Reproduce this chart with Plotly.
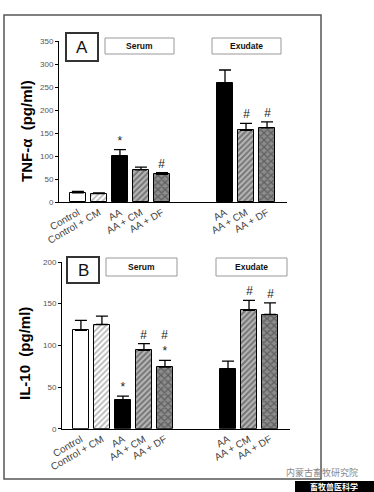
import plotly.graph_objects as go

W, H = 374, 492

# ---------------- data ----------------
serum_cats = ["Control", "Control + CM", "AA", "AA + CM", "AA + DF"]
exudate_cats = ["AA", "AA + CM", "AA + DF"]

tnf_serum = [20, 18, 99, 70, 60]
tnf_serum_err = [3, 2, 15, 6, 4]
tnf_exudate = [259, 156, 161]
tnf_exudate_err = [28, 15, 13]
tnf_serum_marks = ["", "", "*", "", "#"]
tnf_exudate_marks = ["", "#", "#"]

il10_serum = [118, 125, 34, 94, 74]
il10_serum_err = [12, 10, 5, 8, 8]
il10_exudate = [72, 142, 137]
il10_exudate_err = [9, 12, 14]
il10_serum_marks = ["", "", "*", "#", "#<br>*"]
il10_exudate_marks = ["", "#", "#"]

tnf_ticks = [0, 50, 100, 150, 200, 250, 300, 350]
il10_ticks = [0, 50, 100, 150, 200]

# ---------------- styles ----------------
FONT = "Liberation Sans"
styles = {
    "Control": dict(color="white"),
    "Control + CM": dict(color="white", pattern=dict(shape="/", fgcolor="#666666", bgcolor="white", size=4, solidity=0.4)),
    "AA": dict(color="black"),
    "AA + CM": dict(color="#aaaaaa", pattern=dict(shape="/", fgcolor="#333333", bgcolor="#b8b8b8", size=4, solidity=0.5)),
    "AA + DF": dict(color="#777777", pattern=dict(shape="x", fgcolor="#333333", bgcolor="#8c8c8c", size=5, solidity=0.45)),
}

serum_pos = list(range(len(serum_cats)))
exudate_pos = [p + len(serum_cats) + 2 for p in range(len(exudate_cats))]
all_pos = serum_pos + exudate_pos
all_labels = serum_cats + exudate_cats

fig = go.Figure()


def add_panel(xa, ya, s_vals, s_err, e_vals, e_err, s_marks, e_marks):
    cats = serum_cats + exudate_cats
    vals = s_vals + e_vals
    errs = s_err + e_err
    marks = s_marks + e_marks
    for name in styles:
        xs, ys, es = [], [], []
        for c, p, v, e in zip(cats, all_pos, vals, errs):
            if c == name:
                xs.append(p); ys.append(v); es.append(e)
        st = styles[name]
        marker = dict(color=st["color"], line=dict(color="black", width=1))
        if "pattern" in st:
            marker["pattern"] = st["pattern"]
        fig.add_trace(go.Bar(
            x=xs, y=ys, width=0.75, marker=marker, showlegend=False,
            xaxis=xa, yaxis=ya,
            error_y=dict(type="data", symmetric=False, array=es,
                         arrayminus=[0] * len(es), color="black",
                         thickness=1.3, width=6),
        ))
    for p, v, e, m in zip(all_pos, vals, errs, marks):
        if m:
            fig.add_annotation(x=p, y=v + e, xref=xa, yref=ya.replace("axis", ""),
                               text=f"<i>{m}</i>", showarrow=False, yanchor="bottom", yshift=0,
                               font=dict(family=FONT, size=12, color="#222"))


add_panel("x", "y", tnf_serum, tnf_serum_err, tnf_exudate, tnf_exudate_err,
          tnf_serum_marks, tnf_exudate_marks)
add_panel("x2", "y2", il10_serum, il10_serum_err, il10_exudate, il10_exudate_err,
          il10_serum_marks, il10_exudate_marks)


def px(x):
    return x / W


def py(y):
    return 1 - y / H


xcommon = dict(range=[-0.9, 9.95], tickmode="array", tickvals=all_pos, ticktext=all_labels,
               tickangle=-30, tickfont=dict(family=FONT, size=10, color="#444"),
               showline=True, linecolor="black", linewidth=1, showgrid=False,
               zeroline=False, ticks="", fixedrange=True, automargin=False)
ycommon = dict(showline=True, linecolor="black", linewidth=1, showgrid=False,
               zeroline=False, ticks="outside", ticklen=3, tickcolor="black",
               tickfont=dict(family=FONT, size=8, color="#555"), fixedrange=True,
               automargin=False)

fig.update_layout(
    width=W, height=H, margin=dict(l=0, r=0, t=0, b=0, autoexpand=False),
    paper_bgcolor="white", plot_bgcolor="white", bargap=0,
    xaxis=dict(domain=[px(59), px(287)], anchor="y", **xcommon),
    yaxis=dict(domain=[py(202), py(41)], range=[0, 350], tickvals=tnf_ticks, anchor="x", **ycommon),
    xaxis2=dict(domain=[px(62), px(290)], anchor="y2", **xcommon),
    yaxis2=dict(domain=[py(428.7), py(262)], range=[0, 200], tickvals=il10_ticks, anchor="x2", **ycommon),
)

shapes = []
# outer frame
shapes.append(dict(type="rect", xref="paper", yref="paper", x0=px(4), x1=px(321), y0=py(479), y1=py(15),
                   line=dict(color="#555", width=1.5)))
annots = []


def box(x0, x1, y0, y1, text, thick, size, bold):
    shapes.append(dict(type="rect", xref="paper", yref="paper", x0=px(x0), x1=px(x1), y0=py(y1), y1=py(y0),
                       line=dict(color="#333" if thick else "#999", width=2 if thick else 1),
                       fillcolor="white"))
    annots.append(dict(xref="paper", yref="paper", x=px((x0 + x1) / 2), y=py((y0 + y1) / 2),
                       text=f"<b>{text}</b>" if bold else text, showarrow=False,
                       xanchor="center", yanchor="middle",
                       font=dict(family=FONT, size=size, color="#111")))


box(66, 98, 33, 61, "A", True, 17, False)
box(105, 174, 38, 54, "Serum", False, 8.5, True)
box(212, 281, 38, 54, "Exudate", False, 8.5, True)
box(67, 99, 257, 283, "B", True, 17, False)
box(106, 177, 258, 276, "Serum", False, 8.5, True)
box(216, 287, 258, 276, "Exudate", False, 8.5, True)

annots.append(dict(xref="paper", yref="paper", x=px(26), y=py(131), text="<b>TNF-α  (pg/ml)</b>",
                   textangle=-90, showarrow=False, xanchor="center", yanchor="middle",
                   font=dict(family=FONT, size=15, color="black")))
annots.append(dict(xref="paper", yref="paper", x=px(24), y=py(354), text="<b>IL-10  (pg/ml)</b>",
                   textangle=-90, showarrow=False, xanchor="center", yanchor="middle",
                   font=dict(family=FONT, size=15, color="black")))

# watermark
annots.append(dict(xref="paper", yref="paper", x=px(322), y=py(472), text="内蒙古畜牧研究院",
                   showarrow=False, xanchor="center", yanchor="middle",
                   font=dict(family="Noto Sans CJK SC", size=9, color="#888")))
shapes.append(dict(type="rect", xref="paper", yref="paper", x0=px(295), x1=px(374), y0=py(492), y1=py(481),
                   line=dict(width=0), fillcolor="black"))
annots.append(dict(xref="paper", yref="paper", x=px(334), y=py(486.5), text="<b>畜牧兽医科学</b>",
                   showarrow=False, xanchor="center", yanchor="middle",
                   font=dict(family="Noto Sans CJK SC", size=8, color="white")))

fig.update_layout(shapes=shapes)
for a in annots:
    fig.add_annotation(**a)

post = ("document.body.style.margin='0';document.body.style.overflow='hidden';"
        "var d=document.getElementById('{plot_id}');"
        "d.style.position='fixed';d.style.left='0px';d.style.top='0px';")
fig.write_html("out.html", config={"displayModeBar": False}, post_script=post)
